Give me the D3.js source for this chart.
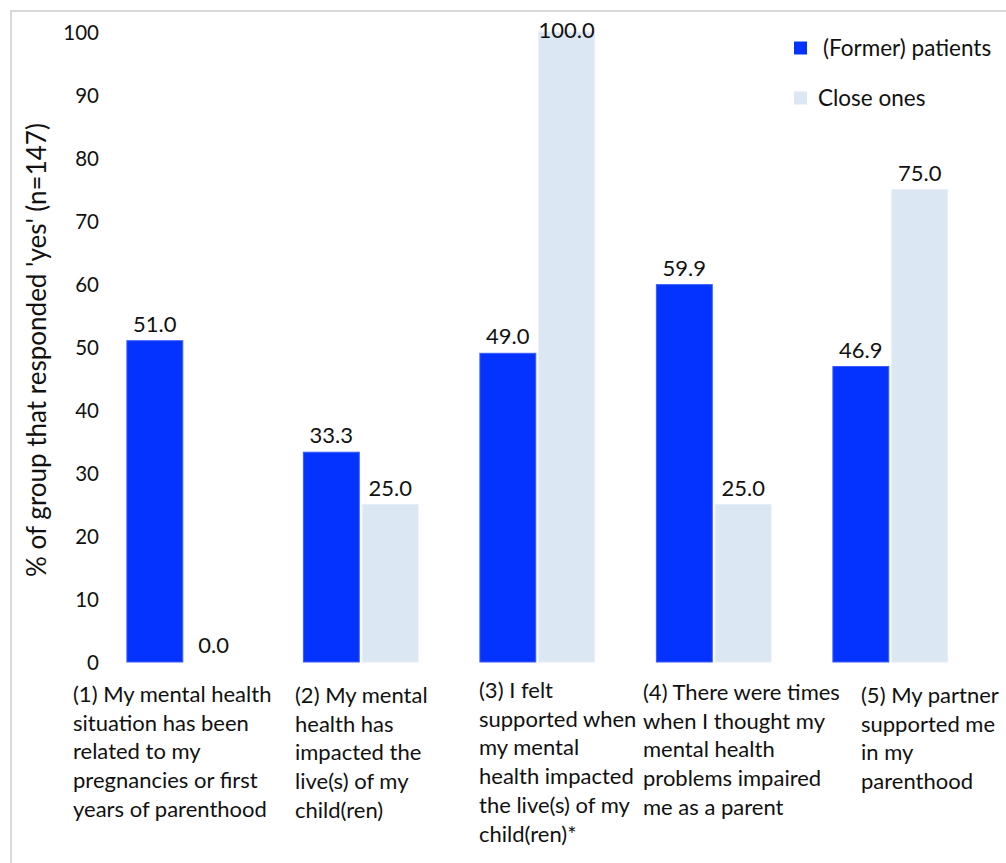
<!DOCTYPE html>
<html>
<head>
<meta charset="utf-8">
<script src="https://cdn.jsdelivr.net/npm/d3@7"></script>
<style>
  html, body { margin: 0; padding: 0; background: #fff; }
  svg { display: block; }
  text { font-family: Lato, "Open Sans", sans-serif; fill: #111; }
</style>
</head>
<body>
<svg id="chart" width="1006" height="863"></svg>
<script>
// Category labels, one array entry per wrapped line
const categories = [
  ["(1) My mental health", "situation has been", "related to my", "pregnancies or first", "years of parenthood"],
  ["(2) My mental", "health has", "impacted the", "live(s) of my", "child(ren)"],
  ["(3) I felt", "supported when", "my mental", "health impacted", "the live(s) of my", "child(ren)*"],
  ["(4) There were times", "when I thought my", "mental health", "problems impaired", "me as a parent"],
  ["(5) My partner", "supported me", "in my", "parenthood"]
];
const seriesNames = ["(Former) patients", "Close ones"];
const patients = [51.0, 33.3, 49.0, 59.9, 46.9];
const closeOnes = [0.0, 25.0, 100.0, 25.0, 75.0];
const yTicks = [0, 10, 20, 30, 40, 50, 60, 70, 80, 90, 100];
const yTitle = "% of group that responded 'yes' (n=147)";
const colors = ["#0433FF", "#DCE7F4"];

const svg = d3.select("#chart");

// outer frame
svg.append("rect")
  .attr("x", 11).attr("y", 11).attr("width", 1010).attr("height", 860)
  .attr("fill", "none").attr("stroke", "#d9d9d9").attr("stroke-width", 2);

const plot = { left: 96, right: 978.5, top: 32, bottom: 662 };

const x0 = d3.scaleBand()
  .domain(d3.range(categories.length))
  .range([plot.left, plot.right])
  .paddingInner(0.35)
  .paddingOuter(0.175);

const x1 = d3.scaleBand()
  .domain([0, 1])
  .range([0, x0.bandwidth()])
  .paddingInner(0.05);

const y = d3.scaleLinear().domain([0, 100]).range([plot.bottom, plot.top]);

// y axis tick labels (no line, no ticks)
const yAxis = d3.axisLeft(y).tickValues(yTicks).tickSize(0).tickPadding(0);
const yg = svg.append("g").attr("transform", `translate(99,0)`).call(yAxis);
yg.select(".domain").remove();
yg.selectAll("text")
  .style("font-family", "Lato, 'Open Sans', sans-serif")
  .style("font-size", "20.5px")
  .attr("fill", "#111")
  .attr("dy", "0.35em");

// y axis title
svg.append("text")
  .attr("transform", `translate(46,350) rotate(-90)`)
  .attr("text-anchor", "middle")
  .style("font-size", "26px")
  .text(yTitle);

const data = categories.map((c, i) => ({ i, values: [patients[i], closeOnes[i]] }));

const groups = svg.append("g").selectAll("g")
  .data(data).join("g")
  .attr("transform", d => `translate(${x0(d.i)},0)`);

groups.selectAll("rect")
  .data(d => d.values.map((v, s) => ({ v, s })))
  .join("rect")
  .attr("x", d => x1(d.s))
  .attr("y", d => y(d.v))
  .attr("width", x1.bandwidth())
  .attr("height", d => y(0) - y(d.v))
  .attr("fill", d => colors[d.s])
  .attr("stroke", d => d.s === 0 ? "#3a5cff" : "#e6eef8")
  .attr("stroke-width", 1);

// value labels above bars, kept inside the frame at the top
groups.selectAll("text.val")
  .data(d => d.values.map((v, s) => ({ v, s })))
  .join("text")
  .attr("class", "val")
  .attr("x", d => x1(d.s) + x1.bandwidth() / 2)
  .attr("y", d => Math.max(y(d.v) - 9, 38))
  .attr("text-anchor", "middle")
  .style("font-size", "22px")
  .text(d => d3.format(".1f")(d.v));

// category labels below the bars
const labelX = [73, 295, 479, 643, 861];
const labelY = [702, 703, 698, 700, 703];
svg.append("g").selectAll("text")
  .data(categories).join("text")
  .attr("x", (d, i) => labelX[i])
  .attr("y", (d, i) => labelY[i])
  .style("font-size", "22px")
  .each(function (lines, i) {
    d3.select(this).selectAll("tspan")
      .data(lines).join("tspan")
      .attr("x", labelX[i])
      .attr("dy", (l, k) => k === 0 ? 0 : 28.7)
      .text(l => l);
  });

// legend
const legend = svg.append("g");
const legendY = [48, 98];
const legendTextX = [823, 818];
seriesNames.forEach((name, s) => {
  legend.append("rect")
    .attr("x", 794).attr("y", legendY[s] - 6.5)
    .attr("width", 13).attr("height", 13)
    .attr("fill", colors[s]);
  legend.append("text")
    .attr("x", legendTextX[s]).attr("y", legendY[s])
    .attr("dy", "0.35em")
    .style("font-size", "22.5px")
    .text(name);
});
</script>
</body>
</html>
